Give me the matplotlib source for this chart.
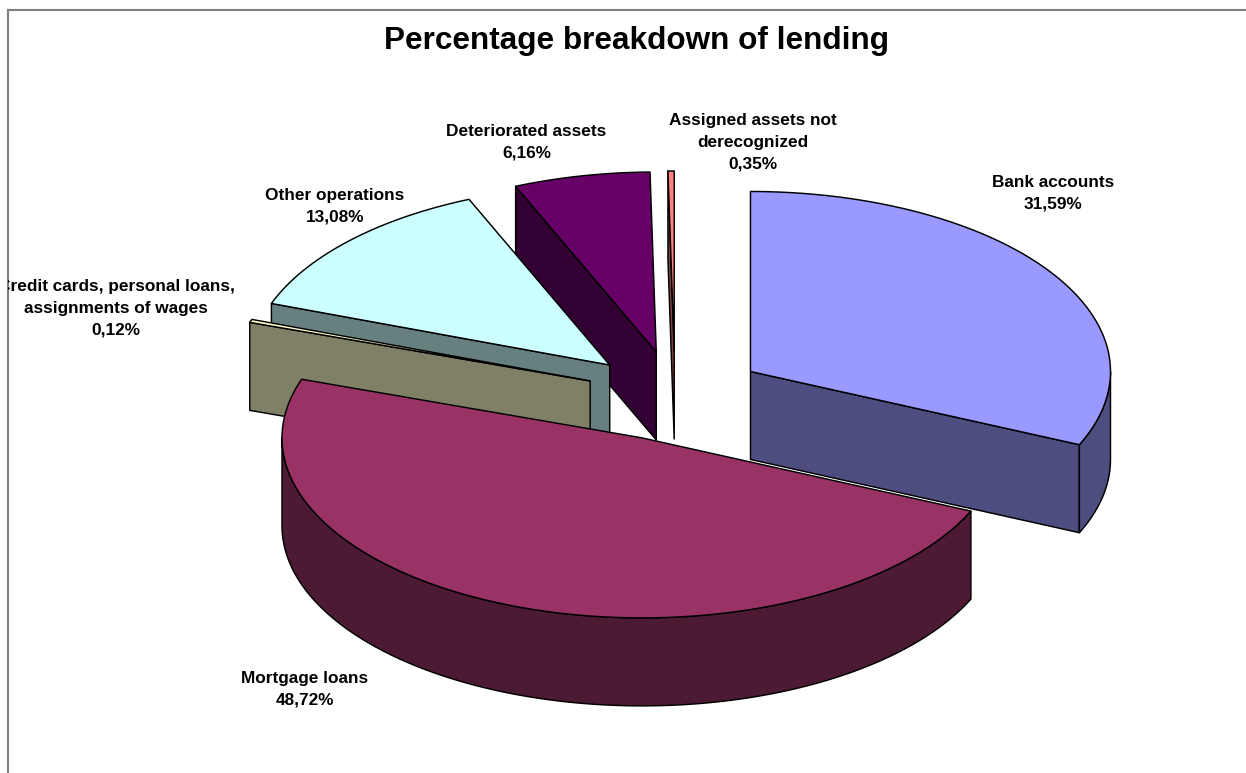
import numpy as np
import matplotlib
matplotlib.use("Agg")
import matplotlib.pyplot as plt
from matplotlib.patches import Polygon

plt.rcParams['font.family'] = ['Liberation Sans', 'DejaVu Sans']

# Lending shares, clockwise from twelve o'clock
categories = [
    "Bank accounts",
    "Mortgage loans",
    "Credit cards, personal loans,\nassignments of wages",
    "Other operations",
    "Deteriorated assets",
    "Assigned assets not\nderecognized",
]
shares = [31.59, 48.72, 0.12, 13.08, 6.16, 0.35]
top_colors = ["#9999FF", "#993366", "#FFFFCC", "#CCFFFF", "#660066", "#FF8080"]
side_colors = ["#4D4D80", "#4D1A33", "#808066", "#668080", "#330033", "#804040"]
label_anchor = [(1053, 193.5), (304.5, 689), (116, 308), (335, 206.5), (526.5, 142.5), (752.5, 142)]

# Pie geometry in pixels
CX, CY = 675, 396
RX, RY = 360, 180
DEPTH = 88
EXPLODE = 0.25
# Back slices first, so nearer slices overlap them
DRAW_ORDER = [5, 4, 3, 2, 0, 1]

W, H = 1246, 773
LEFT, TOP = 8, 10
fig = plt.figure(figsize=(W / 100, H / 100), dpi=100, facecolor="white")
ax = fig.add_axes([LEFT / W, 0, (W - LEFT) / W, (H - TOP) / H])
ax.set_xlim(LEFT, W)
ax.set_ylim(H, TOP)
ax.set_xticks([])
ax.set_yticks([])
for side in ("right", "bottom"):
    ax.spines[side].set_visible(False)
for side in ("left", "top"):
    ax.spines[side].set_color("#808080")
    ax.spines[side].set_linewidth(1.5)


def rim(cx, cy, t):
    """Point on the ellipse rim at clockwise angle t (radians from the top)."""
    return np.column_stack([cx + RX * np.sin(t), cy - RY * np.cos(t)])


def add_poly(points, color):
    ax.add_patch(Polygon(points, closed=True, facecolor=color, edgecolor="black",
                         linewidth=1.05, joinstyle="round"))


def radial_face(cx, cy, t, color):
    p = rim(cx, cy, np.array([t]))[0]
    add_poly([(cx, cy), p, (p[0], p[1] + DEPTH), (cx, cy + DEPTH)], color)


# Slice boundaries snap to whole degrees; the stated shares add up to just over 100
cumulative = np.concatenate([[0], np.cumsum(shares)]) / 100
bounds = np.radians(np.minimum(np.round(cumulative * 360), 360))

for i in DRAW_ORDER:
    t0, t1 = bounds[i], bounds[i + 1]
    mid = (t0 + t1) / 2
    cx = CX + EXPLODE * RX * np.sin(mid)
    cy = CY - EXPLODE * RY * np.cos(mid)

    # Cut faces, shown only when they turn towards the viewer
    if np.sin(t0) < -1e-9:
        radial_face(cx, cy, t0, side_colors[i])
    if np.sin(t1) > 1e-9:
        radial_face(cx, cy, t1, side_colors[i])

    # Outer wall along the front half of the rim
    a, b = max(t0, np.pi / 2), min(t1, 3 * np.pi / 2)
    if b > a:
        arc = rim(cx, cy, np.linspace(a, b, 200))
        lower = arc[::-1] + np.array([0, DEPTH])
        add_poly(np.vstack([arc, lower]), side_colors[i])

    # Top face
    arc = rim(cx, cy, np.linspace(t0, t1, 300))
    add_poly(np.vstack([[(cx, cy)], arc]), top_colors[i])

for name, share, (x, y) in zip(categories, shares, label_anchor):
    value = f"{share:.2f}%".replace(".", ",")
    ax.text(x, y, f"{name}\n{value}", ha="center", va="center", fontsize=12.4,
            fontweight="bold", color="black", linespacing=1.57, multialignment="center",
            clip_on=True)

ax.text(636, 40.5, "Percentage breakdown of lending", ha="center", va="center",
        fontsize=22.7, fontweight="bold", color="black")

fig.savefig("out.png", dpi=100, facecolor="white")
